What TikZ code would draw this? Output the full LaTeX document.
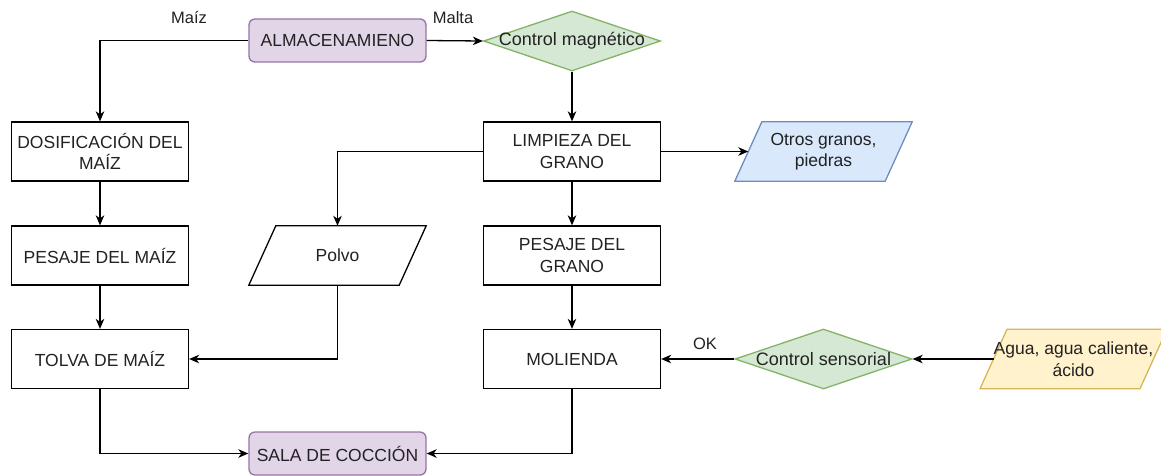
\documentclass[tikz,border=0pt]{standalone}
\usepackage{fontspec}
\setmainfont{Liberation Sans}
\usetikzlibrary{shapes.geometric,arrows.meta,backgrounds}
\definecolor{purpF}{HTML}{E1D5E7}\definecolor{purpD}{HTML}{9673A6}
\definecolor{greenF}{HTML}{D5E8D4}\definecolor{greenD}{HTML}{82B366}
\definecolor{blueF}{HTML}{DAE8FC}\definecolor{blueD}{HTML}{6C8EBF}
\definecolor{yelF}{HTML}{FFF2CC}\definecolor{yelD}{HTML}{D6B656}
\definecolor{txt}{HTML}{222222}
\begin{document}
\begin{tikzpicture}[x=1pt,y=-1pt,
  every node/.style={font=\fontsize{17.5}{21.5}\selectfont, text=txt, align=center},
  procbox/.style={draw=black, line width=1.3pt, fill=white, minimum width=177pt, minimum height=59pt, inner sep=0pt},
  termbox/.style={draw=purpD, line width=1.3pt, fill=purpF, rounded corners=6pt, minimum width=177pt, minimum height=43pt, inner sep=0pt},
  decbox/.style={draw=greenD, line width=1.3pt, fill=greenF, diamond, minimum width=177pt, minimum height=60pt, inner sep=0pt},
  iobox/.style={minimum width=150pt, minimum height=59pt, inner sep=0pt},
  arr/.style={draw=black, line width=1.3pt, -{Stealth[length=10pt,width=8.5pt,inset=3pt]}},
  lbl/.style={font=\fontsize{16.5}{19}\selectfont}]
\useasboundingbox (0,0) rectangle (1161,475);

% nodes
\node[termbox] (alm) at (337.5,40.5) {ALMACENAMIENO};
\node[decbox, label={[font=\fontsize{18}{21}\selectfont, text=txt]center:Control magnético}] (cm) at (572,41) {};
\node[procbox] (dos) at (100,151.5) {DOSIFICACIÓN DEL\\MAÍZ};
\node[procbox] (pm) at (100,255.5) {PESAJE DEL MAÍZ};
\node[procbox] (tolva) at (100,359) {TOLVA DE MAÍZ};
\node[termbox] (sala) at (337.5,453.5) {SALA DE COCCIÓN};
\node[procbox] (limp) at (572,151.5) {LIMPIEZA DEL\\GRANO};
\node[procbox] (pg) at (572,255.5) {PESAJE DEL\\GRANO};
\node[procbox] (mol) at (572,359) {MOLIENDA};
\node[iobox] (polvo) at (337.5,255.5) {Polvo};
\node[iobox] (otros) at (823.5,151.5) {Otros granos,\\piedras};
\node[decbox, label={[font=\fontsize{18}{21}\selectfont, text=txt]center:Control sensorial}] (cs) at (823.5,359) {};
\node[iobox] (agua) at (1073.5,359) {Agua, agua caliente,\\ácido};

\begin{pgfonlayer}{background}
\draw[line width=1.3pt, draw=black, fill=white]
  ([xshift=13.5pt]polvo.north west) -- ([xshift=13.5pt]polvo.north east) --
  ([xshift=-13.5pt]polvo.south east) -- ([xshift=-13.5pt]polvo.south west) -- cycle;
\draw[line width=1.3pt, draw=blueD, fill=blueF]
  ([xshift=13.5pt]otros.north west) -- ([xshift=13.5pt]otros.north east) --
  ([xshift=-13.5pt]otros.south east) -- ([xshift=-13.5pt]otros.south west) -- cycle;
\draw[line width=1.3pt, draw=yelD, fill=yelF]
  ([xshift=13.5pt]agua.north west) -- ([xshift=13.5pt]agua.north east) --
  ([xshift=-13.5pt]agua.south east) -- ([xshift=-13.5pt]agua.south west) -- cycle;
\end{pgfonlayer}

% connectors
\draw[arr] (alm.west) -| (dos.north);
\node[lbl] (lmaiz) at (189,18) {Maíz};
\draw[arr] (alm.east) -- (cm.west);
\node[lbl] (lmalta) at (453,18) {Malta};
\draw[arr] (cm.south) -- (limp.north);
\draw[arr] (limp.west) -| (polvo.north);
\draw[arr] (limp.east) -- (otros.west);
\draw[arr] (limp.south) -- (pg.north);
\draw[arr] (dos.south) -- (pm.north);
\draw[arr] (pm.south) -- (tolva.north);
\draw[arr] (pg.south) -- (mol.north);
\draw[arr] (polvo.south) |- (tolva.east);
\draw[arr] (agua.west) -- (cs.east);
\draw[arr] (cs.west) -- (mol.east);
\node[lbl] (lok) at (705,344) {OK};
\draw[arr] (tolva.south) |- (sala.west);
\draw[arr] (mol.south) |- (sala.east);
\end{tikzpicture}
\end{document}
